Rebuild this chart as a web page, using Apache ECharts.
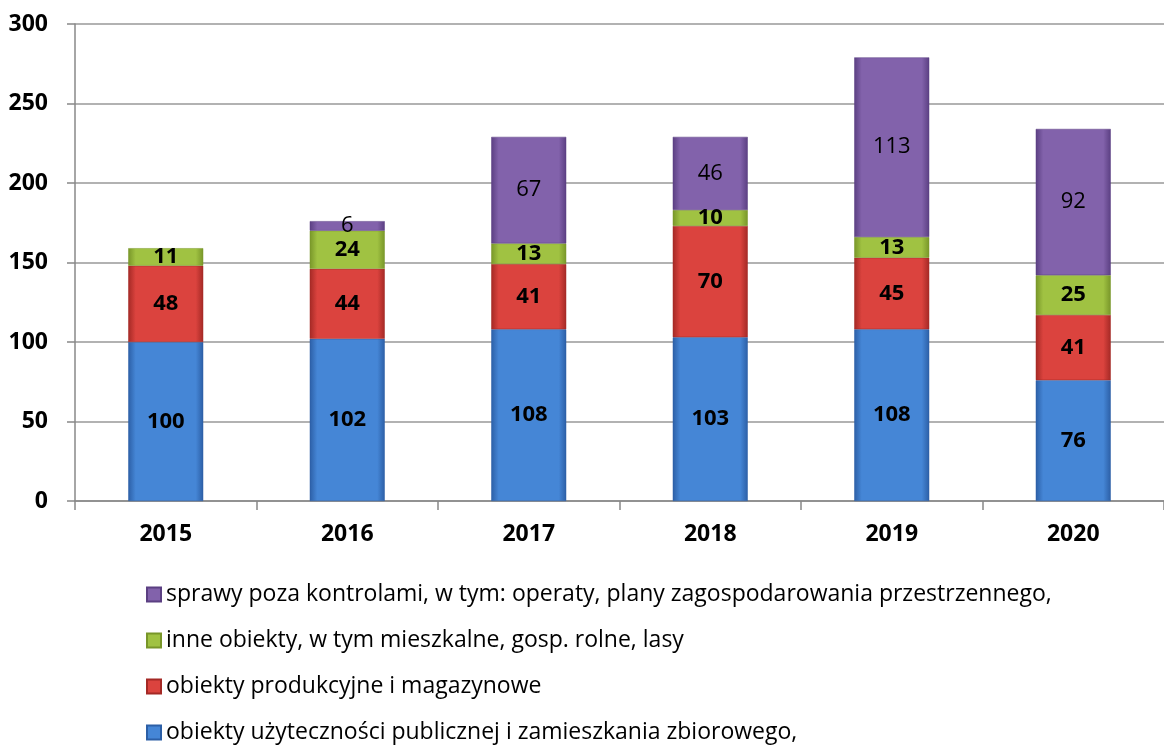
<!DOCTYPE html>
<html>
<head>
<meta charset="utf-8">
<script src="https://cdn.jsdelivr.net/npm/echarts@6/dist/echarts.min.js"></script>
<style>
html,body{margin:0;padding:0;background:#fff;}
#chart{width:1164px;height:749px;}
</style>
</head>
<body>
<div id="chart"></div>
<script>
var years = ['2015', '2016', '2017', '2018', '2019', '2020'];
var publiczne = [100, 102, 108, 103, 108, 76];
var produkcyjne = [48, 44, 41, 70, 45, 41];
var inne = [11, 24, 13, 10, 13, 25];
var sprawy = [null, 6, 67, 46, 113, 92];
var yTicks = [0, 50, 100, 150, 200, 250, 300];

var names = [
	'obiekty użyteczności publicznej i zamieszkania zbiorowego,',
	'obiekty produkcyjne i magazynowe',
	'inne obiekty, w tym mieszkalne, gosp. rolne, lasy',
	'sprawy poza kontrolami, w tym: operaty, plany zagospodarowania przestrzennego,'
];

// kolory: krawędź, środek
var cols = [
	['#2c5fa6', '#4586d6'],
	['#a42925', '#db433e'],
	['#789629', '#a0c242'],
	['#5b3f82', '#8262ab']
];

function grad(c) {
	return new echarts.graphic.LinearGradient(0, 0, 1, 0, [
		{ offset: 0, color: c[0] },
		{ offset: 0.1, color: c[1] },
		{ offset: 0.9, color: c[1] },
		{ offset: 1, color: c[0] }
	]);
}

function makeSeries(i, data, bold) {
	return {
		name: names[i],
		type: 'bar',
		stack: 'all',
		barWidth: 75,
		data: data,
		itemStyle: {
			color: grad(cols[i]),
			borderColor: cols[i][0],
			borderWidth: 0.5
		},
		label: {
			show: true,
			position: 'inside',
			color: '#000',
			fontSize: 22,
			fontWeight: bold ? 'bold' : 'normal',
			fontFamily: 'Open Sans'
		}
	};
}

var chart = echarts.init(document.getElementById('chart'));
var option = {
	animation: false,
	grid: { left: 75, right: 0, top: 24, bottom: 248 },
	legend: {
		orient: 'vertical',
		left: 141,
		top: 578,
		itemGap: 23,
		itemWidth: 14,
		itemHeight: 14,
		icon: 'rect',
		data: [names[3], names[2], names[1], names[0]],
		textStyle: { fontSize: 23, color: '#000', fontFamily: 'Open Sans', padding: [0, 0, 0, 0] }
	},
	xAxis: {
		type: 'category',
		data: years,
		axisLine: { lineStyle: { color: '#888', width: 1.5 } },
		axisTick: { show: true, length: 9, lineStyle: { color: '#888', width: 1.5 } },
		axisLabel: { color: '#000', fontSize: 23, fontWeight: 'bold', margin: 22, fontFamily: 'Open Sans' }
	},
	yAxis: {
		type: 'value',
		min: yTicks[0],
		max: yTicks[yTicks.length - 1],
		interval: 50,
		axisLine: { show: true, lineStyle: { color: '#888', width: 1.5 } },
		axisTick: { show: true, length: 8, lineStyle: { color: '#888', width: 1.5 } },
		axisLabel: { color: '#000', fontSize: 23, fontWeight: 'bold', margin: 27, fontFamily: 'Open Sans' },
		splitLine: { lineStyle: { color: '#999', width: 1.5 } }
	},
	series: [
		makeSeries(0, publiczne, true),
		makeSeries(1, produkcyjne, true),
		makeSeries(2, inne, true),
		makeSeries(3, sprawy, false)
	]
};
chart.setOption(option);
</script>
</body>
</html>
